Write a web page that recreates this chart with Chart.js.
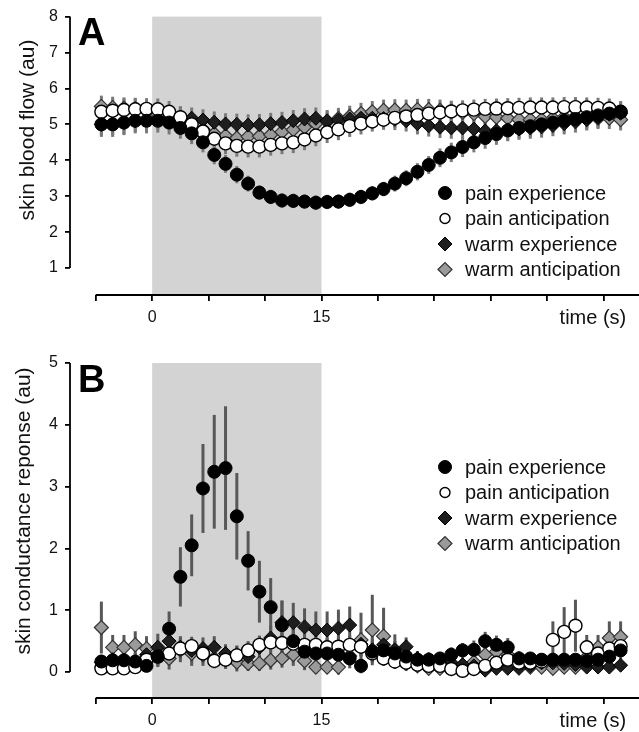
<!DOCTYPE html>
<html>
<head>
<meta charset="utf-8">
<script src="https://cdn.jsdelivr.net/npm/chart.js@4.4.1/dist/chart.umd.min.js"></script>
<style>
  html, body { margin: 0; padding: 0; background: #fff; overflow: hidden; }
  #wrap { position: relative; width: 639px; height: 732px; overflow: hidden; }
  .panel { position: absolute; left: 0; width: 648px; }
  #panelA { top: 0; height: 330px; }
  #panelB { top: 330px; height: 402px; }
</style>
</head>
<body>
<div id="wrap">
  <div class="panel" id="panelA"><canvas id="chartA"></canvas></div>
  <div class="panel" id="panelB"><canvas id="chartB"></canvas></div>
</div>
<script>
// time of each sample (s), stimulus from 0 to 15 s
const time = [-4.5, -3.5, -2.5, -1.5, -0.5, 0.5, 1.5, 2.5, 3.5, 4.5,
  5.5, 6.5, 7.5, 8.5, 9.5, 10.5, 11.5, 12.5, 13.5, 14.5,
  15.5, 16.5, 17.5, 18.5, 19.5, 20.5, 21.5, 22.5, 23.5, 24.5,
  25.5, 26.5, 27.5, 28.5, 29.5, 30.5, 31.5, 32.5, 33.5, 34.5,
  35.5, 36.5, 37.5, 38.5, 39.5, 40.5, 41.5];
const stimulus = [0, 15];
const seriesNames = ['pain experience', 'pain anticipation', 'warm experience', 'warm anticipation'];

const xTicks = [-5, 0, 5, 10, 15, 20, 25, 30, 35, 40];
const xLabelled = [0, 15];
const xTitle = 'time (s)';
const yTicksA = [1, 2, 3, 4, 5, 6, 7, 8];
const yTicksB = [0, 1, 2, 3, 4, 5];

// A: skin blood flow
const painExpA = [5.0, 5.0, 5.05, 5.1, 5.1, 5.1, 5.05, 4.9, 4.75, 4.5,
  4.15, 3.9, 3.6, 3.35, 3.1, 2.98, 2.88, 2.87, 2.85, 2.82,
  2.84, 2.85, 2.9, 2.98, 3.08, 3.2, 3.35, 3.5, 3.68, 3.87,
  4.07, 4.22, 4.37, 4.5, 4.62, 4.73, 4.83, 4.9, 4.95, 5.0,
  5.05, 5.1, 5.15, 5.2, 5.25, 5.3, 5.35];
const painAntA = [5.35, 5.38, 5.4, 5.42, 5.43, 5.42, 5.35, 5.2, 5.0, 4.8,
  4.6, 4.47, 4.4, 4.38, 4.38, 4.43, 4.47, 4.5, 4.58, 4.69,
  4.78, 4.86, 4.95, 5.02, 5.08, 5.13, 5.18, 5.22, 5.26, 5.3,
  5.33, 5.36, 5.39, 5.41, 5.43, 5.44, 5.45, 5.46, 5.47, 5.47,
  5.47, 5.48, 5.48, 5.47, 5.46, 5.44, 5.35];
const warmExpA = [5.0, 5.02, 5.05, 5.1, 5.12, 5.15, 5.18, 5.2, 5.17, 5.12,
  5.06, 5.01, 5.0, 4.98, 4.99, 5.02, 5.05, 5.1, 5.15, 5.17,
  5.1, 5.12, 5.15, 5.17, 5.17, 5.16, 5.14, 5.1, 5.02, 4.96,
  4.92, 4.9, 4.9, 4.87, 4.82, 4.82, 4.85, 4.87, 4.9, 4.93,
  4.97, 5.02, 5.07, 5.13, 5.2, 5.28, 5.31];
const warmAntA = [5.5, 5.47, 5.45, 5.44, 5.38, 5.28, 5.14, 5.0, 4.9, 4.86,
  4.74, 4.68, 4.62, 4.66, 4.67, 4.71, 4.79, 4.85, 4.92, 5.02,
  5.07, 5.16, 5.22, 5.3, 5.35, 5.39, 5.4, 5.39, 5.41, 5.41,
  5.39, 5.36, 5.33, 5.3, 5.22, 5.2, 5.17, 5.13, 5.13, 5.13,
  5.17, 5.2, 5.22, 5.15, 5.17, 5.17, 5.13];
const painExpAErr = [0.35, 0.35, 0.35, 0.35, 0.35, 0.33, 0.33, 0.3, 0.3, 0.28,
  0.26, 0.25, 0.24, 0.22, 0.2, 0.2, 0.2, 0.2, 0.2, 0.2,
  0.2, 0.2, 0.2, 0.2, 0.2, 0.2, 0.22, 0.22, 0.24, 0.25,
  0.26, 0.27, 0.28, 0.28, 0.3, 0.3, 0.3, 0.3, 0.3, 0.3,
  0.3, 0.3, 0.3, 0.3, 0.3, 0.3, 0.3];
const painAntAErr = [0.32, 0.32, 0.32, 0.3, 0.3, 0.3, 0.3, 0.3, 0.3, 0.3,
  0.3, 0.3, 0.3, 0.3, 0.3, 0.3, 0.3, 0.3, 0.3, 0.3,
  0.3, 0.3, 0.3, 0.3, 0.28, 0.28, 0.28, 0.28, 0.28, 0.28,
  0.28, 0.28, 0.28, 0.28, 0.28, 0.28, 0.28, 0.28, 0.28, 0.28,
  0.28, 0.28, 0.28, 0.28, 0.28, 0.28, 0.28];
const warmExpAErr = [0.32, 0.32, 0.32, 0.32, 0.3, 0.3, 0.3, 0.3, 0.3, 0.3,
  0.3, 0.3, 0.3, 0.3, 0.3, 0.3, 0.3, 0.3, 0.3, 0.3,
  0.3, 0.3, 0.3, 0.3, 0.3, 0.3, 0.3, 0.3, 0.3, 0.3,
  0.3, 0.3, 0.3, 0.3, 0.3, 0.3, 0.3, 0.3, 0.3, 0.3,
  0.3, 0.3, 0.3, 0.3, 0.3, 0.3, 0.3];
const warmAntAErr = [0.3, 0.3, 0.3, 0.3, 0.3, 0.3, 0.3, 0.3, 0.3, 0.3,
  0.3, 0.3, 0.3, 0.3, 0.3, 0.3, 0.3, 0.3, 0.3, 0.3,
  0.3, 0.3, 0.3, 0.3, 0.3, 0.3, 0.3, 0.3, 0.3, 0.3,
  0.3, 0.3, 0.3, 0.3, 0.3, 0.3, 0.3, 0.3, 0.3, 0.3,
  0.3, 0.3, 0.3, 0.3, 0.3, 0.3, 0.3];

// B: skin conductance response
const painExpB = [0.17, 0.19, 0.19, 0.17, 0.1, 0.25, 0.7, 1.54, 2.05, 2.97,
  3.24, 3.3, 2.52, 1.8, 1.3, 1.05, 0.76, 0.5, 0.33, 0.3,
  0.3, 0.28, 0.22, 0.1, 0.33, 0.35, 0.3, 0.25, 0.2, 0.2,
  0.22, 0.28, 0.35, 0.36, 0.5, 0.44, 0.4, 0.22, 0.22, 0.2,
  0.2, 0.2, 0.2, 0.18, 0.2, 0.25, 0.35];
const painAntB = [0.06, 0.06, 0.06, 0.08, 0.2, 0.25, 0.3, 0.38, 0.42, 0.3,
  0.18, 0.2, 0.27, 0.35, 0.44, 0.48, 0.47, 0.46, 0.44, 0.44,
  0.4, 0.41, 0.44, 0.41, 0.3, 0.22, 0.17, 0.15, 0.12, 0.1,
  0.1, 0.05, 0.02, 0.05, 0.1, 0.15, 0.2, 0.15, 0.15, 0.17,
  0.52, 0.65, 0.75, 0.4, 0.3, 0.38, 0.42];
const warmExpB = [0.16, 0.2, 0.19, 0.16, 0.28, 0.4, 0.5, 0.4, 0.35, 0.38,
  0.4, 0.3, 0.28, 0.25, 0.4, 0.55, 0.8, 0.8, 0.73, 0.68,
  0.68, 0.71, 0.76, 0.45, 0.36, 0.44, 0.35, 0.41, 0.22, 0.2,
  0.18, 0.15, 0.12, 0.1, 0.03, 0.06, 0.06, 0.06, 0.1, 0.15,
  0.15, 0.14, 0.12, 0.08, 0.08, 0.08, 0.11];
const warmAntB = [0.72, 0.4, 0.4, 0.44, 0.38, 0.28, 0.22, 0.36, 0.3, 0.28,
  0.22, 0.2, 0.16, 0.14, 0.14, 0.19, 0.22, 0.28, 0.18, 0.08,
  0.08, 0.08, 0.26, 0.52, 0.68, 0.58, 0.36, 0.14, 0.1, 0.06,
  0.06, 0.06, 0.08, 0.16, 0.28, 0.33, 0.28, 0.2, 0.08, 0.08,
  0.06, 0.08, 0.08, 0.24, 0.4, 0.55, 0.57];
const painExpBErr = [0.1, 0.1, 0.1, 0.1, 0.1, 0.15, 0.28, 0.48, 0.5, 0.72,
  0.92, 1.0, 0.7, 0.48, 0.5, 0.47, 0.4, 0.3, 0.2, 0.15,
  0.12, 0.12, 0.12, 0.12, 0.15, 0.15, 0.12, 0.12, 0.1, 0.1,
  0.1, 0.12, 0.12, 0.15, 0.15, 0.15, 0.15, 0.12, 0.1, 0.1,
  0.1, 0.1, 0.1, 0.1, 0.1, 0.12, 0.15];
const painAntBErr = [0.08, 0.08, 0.08, 0.1, 0.15, 0.15, 0.18, 0.15, 0.15, 0.15,
  0.12, 0.12, 0.15, 0.15, 0.15, 0.15, 0.15, 0.15, 0.15, 0.15,
  0.15, 0.15, 0.15, 0.15, 0.15, 0.12, 0.12, 0.1, 0.1, 0.1,
  0.1, 0.1, 0.08, 0.08, 0.1, 0.1, 0.12, 0.1, 0.1, 0.12,
  0.3, 0.4, 0.42, 0.2, 0.15, 0.15, 0.15];
const warmExpBErr = [0.12, 0.15, 0.15, 0.15, 0.2, 0.22, 0.2, 0.18, 0.18, 0.18,
  0.18, 0.15, 0.15, 0.15, 0.18, 0.2, 0.35, 0.32, 0.3, 0.3,
  0.3, 0.3, 0.3, 0.2, 0.18, 0.18, 0.15, 0.15, 0.12, 0.12,
  0.1, 0.1, 0.08, 0.08, 0.06, 0.06, 0.06, 0.06, 0.06, 0.08,
  0.08, 0.08, 0.08, 0.06, 0.06, 0.06, 0.06];
const warmAntBErr = [0.42, 0.2, 0.2, 0.22, 0.2, 0.2, 0.18, 0.2, 0.2, 0.18,
  0.15, 0.15, 0.15, 0.12, 0.12, 0.15, 0.15, 0.18, 0.15, 0.1,
  0.1, 0.12, 0.2, 0.44, 0.57, 0.46, 0.25, 0.12, 0.1, 0.08,
  0.08, 0.08, 0.1, 0.12, 0.15, 0.18, 0.15, 0.12, 0.08, 0.08,
  0.08, 0.08, 0.1, 0.15, 0.2, 0.27, 0.25];

const FONT = '"Liberation Sans", Arial, Helvetica, sans-serif';

// marker styles, same order as seriesNames
const styles = [
  { pointStyle: 'circle', pointRadius: 6.5, pointBackgroundColor: '#000', pointBorderColor: '#000', pointBorderWidth: 1, legendRadius: 6.5 },
  { pointStyle: 'circle', pointRadius: 6.5, pointBackgroundColor: '#fff', pointBorderColor: '#000', pointBorderWidth: 1.4, legendRadius: 5 },
  { pointStyle: 'rectRot', pointRadius: 7, pointBackgroundColor: '#1e1e1e', pointBorderColor: '#000', pointBorderWidth: 1, legendRadius: 7 },
  { pointStyle: 'rectRot', pointRadius: 7, pointBackgroundColor: '#9a9a9a', pointBorderColor: '#333', pointBorderWidth: 1.2, legendRadius: 7 }
];

function marker(ctx, st, x, y, r) {
  ctx.beginPath();
  if (st.pointStyle === 'circle') {
    ctx.arc(x, y, r, 0, Math.PI * 2);
  } else {
    ctx.moveTo(x - r, y); ctx.lineTo(x, y - r); ctx.lineTo(x + r, y); ctx.lineTo(x, y + r);
    ctx.closePath();
  }
  ctx.fillStyle = st.pointBackgroundColor;
  ctx.fill();
  ctx.lineWidth = st.pointBorderWidth;
  ctx.strokeStyle = st.pointBorderColor;
  ctx.stroke();
}

const panelPlugin = {
  id: 'panel',
  beforeDatasetsDraw(chart, args, o) {
    const { ctx, chartArea: a, scales: { x, y } } = chart;
    ctx.save();
    const x0 = x.getPixelForValue(stimulus[0]), x1 = x.getPixelForValue(stimulus[1]);
    ctx.fillStyle = '#d3d3d3';
    ctx.fillRect(x0, a.top, x1 - x0, a.bottom - a.top);
    ctx.strokeStyle = o.barColor;
    ctx.lineWidth = 3;
    chart.data.datasets.forEach((ds, i) => {
      chart.getDatasetMeta(i).data.forEach((pt, j) => {
        ctx.beginPath();
        ctx.moveTo(pt.x, y.getPixelForValue(ds.data[j] - ds.errors[j]));
        ctx.lineTo(pt.x, y.getPixelForValue(ds.data[j] + ds.errors[j]));
        ctx.stroke();
      });
    });
    ctx.restore();
  },
  afterDraw(chart, args, o) {
    const { ctx, chartArea: a, scales: { x, y } } = chart;
    const yt = o.yTicks;
    ctx.save();
    // axis lines (y only spans its ticks, x starts at first tick)
    ctx.strokeStyle = '#000';
    ctx.lineWidth = 1.8;
    ctx.beginPath();
    ctx.moveTo(a.left, y.getPixelForValue(yt[0]));
    ctx.lineTo(a.left, y.getPixelForValue(yt[yt.length - 1]));
    ctx.moveTo(x.getPixelForValue(xTicks[0]), a.bottom);
    ctx.lineTo(a.right, a.bottom);
    ctx.stroke();

    ctx.fillStyle = '#000';
    ctx.font = 'bold 38px ' + FONT;
    ctx.textAlign = 'left';
    ctx.textBaseline = 'alphabetic';
    ctx.fillText(o.letter, o.letterPos[0], o.letterPos[1]);

    ctx.fillStyle = '#111';
    ctx.font = '20px ' + FONT;
    ctx.textAlign = 'right';
    ctx.fillText(xTitle, x.getPixelForValue(42), a.bottom + 29);

    ctx.save();
    ctx.translate(o.titlePos[0], o.titlePos[1]);
    ctx.rotate(-Math.PI / 2);
    ctx.font = '21px ' + FONT;
    ctx.textAlign = 'center';
    ctx.textBaseline = 'middle';
    ctx.fillText(o.title, 0, 0);
    ctx.restore();

    // legend
    ctx.font = '20px ' + FONT;
    ctx.textAlign = 'left';
    ctx.textBaseline = 'middle';
    chart.data.datasets.forEach((ds, i) => {
      const ly = o.legendY + i * 25.5;
      marker(ctx, styles[i], 445, ly, styles[i].legendRadius);
      ctx.fillStyle = '#111';
      ctx.fillText(ds.label, 465, ly + 1);
    });
    ctx.restore();
  }
};

function makeChart(id, series, errors, p) {
  const datasets = series.map((s, i) => Object.assign({
    label: seriesNames[i],
    data: s,
    errors: errors[i],
    showLine: false
  }, styles[i]));
  return new Chart(document.getElementById(id), {
    type: 'line',
    data: { labels: time, datasets: datasets },
    plugins: [panelPlugin],
    options: {
      responsive: true,
      maintainAspectRatio: false,
      animation: false,
      events: [],
      layout: { padding: { top: p.padTop, left: 0, right: 0, bottom: 0 } },
      plugins: {
        legend: { display: false },
        tooltip: { enabled: false },
        panel: p.panel
      },
      scales: {
        x: {
          type: 'linear',
          min: -7.28,
          max: 43.2,
          afterBuildTicks: s => { s.ticks = xTicks.map(v => ({ value: v })); },
          afterFit: s => { s.height = p.xHeight; },
          ticks: {
            autoSkip: false,
            maxRotation: 0,
            padding: 7,
            color: '#111',
            font: { family: FONT, size: 16 },
            callback: v => (xLabelled.includes(v) ? String(v) : '')
          },
          grid: { drawOnChartArea: false, tickLength: 6, color: '#000', lineWidth: 1.8 },
          border: { display: false }
        },
        y: {
          min: p.yMin,
          max: p.yMax,
          afterBuildTicks: s => { s.ticks = p.panel.yTicks.map(v => ({ value: v })); },
          afterFit: s => { s.width = 70; },
          ticks: {
            padding: 7,
            color: '#111',
            font: { family: FONT, size: 16 }
          },
          grid: { drawOnChartArea: false, tickLength: 5, color: '#000', lineWidth: 1.8 },
          border: { display: false }
        }
      }
    }
  });
}

makeChart('chartA',
  [painExpA, painAntA, warmExpA, warmAntA],
  [painExpAErr, painAntAErr, warmExpAErr, warmAntAErr],
  {
    padTop: 14, xHeight: 35, yMin: 0.25, yMax: 8,
    panel: { yTicks: yTicksA, letter: 'A', letterPos: [78, 45], title: 'skin blood flow (au)',
      titlePos: [28, 130], legendY: 193, barColor: '#7a7a7a' }
  });

makeChart('chartB',
  [painExpB, painAntB, warmExpB, warmAntB],
  [painExpBErr, painAntBErr, warmExpBErr, warmAntBErr],
  {
    padTop: 33, xHeight: 34, yMin: -0.42, yMax: 5,
    panel: { yTicks: yTicksB, letter: 'B', letterPos: [78, 62], title: 'skin conductance reponse (au)',
      titlePos: [24, 181], legendY: 137, barColor: '#585858' }
  });
</script>
</body>
</html>
